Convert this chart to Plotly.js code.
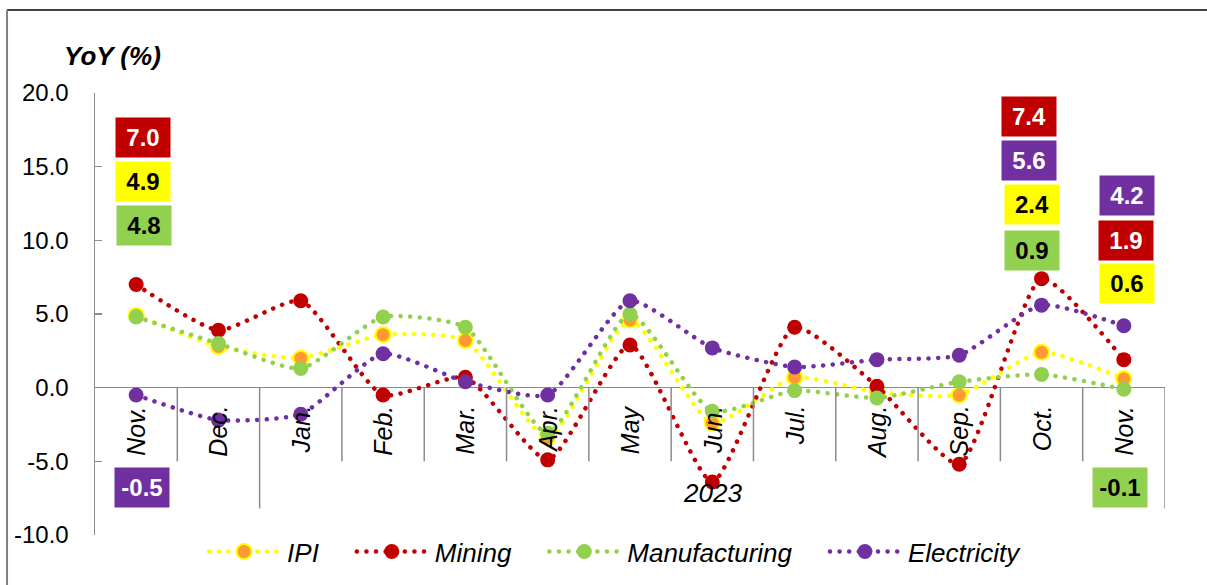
<!DOCTYPE html>
<html>
<head>
<meta charset="utf-8">
<script src="https://cdn.plot.ly/plotly-3.0.1.min.js"></script>
<style>
  html, body { margin: 0; padding: 0; background: #fff; }
  #chart { width: 1207px; height: 585px; }
  .scatterlayer .js-line, .legend .js-line { stroke-linecap: round !important; }
</style>
</head>
<body>
<div id="chart"></div>
<script>
// ---- data ----
const months = ["Nov.","Dec.","Jan.","Feb.","Mar.","Apr.","May","Jun.","Jul.","Aug.","Sep.","Oct.","Nov."];
const yearLabel = "2023";
const ipi           = [4.9, 2.8, 2.0, 3.6, 3.2, -3.4, 4.6, -2.4, 0.7, -0.3, -0.5, 2.4, 0.6];
const mining        = [7.0, 3.9, 5.9, -0.5, 0.7, -4.9, 2.9, -6.4, 4.1, 0.1, -5.2, 7.4, 1.9];
const manufacturing = [4.8, 3.0, 1.3, 4.8, 4.1, -3.1, 5.0, -1.6, -0.2, -0.7, 0.4, 0.9, -0.1];
const electricity   = [-0.5, -2.2, -1.8, 2.3, 0.4, -0.5, 5.9, 2.7, 1.4, 1.9, 2.2, 5.6, 4.2];
const seriesNames = ["IPI", "Mining", "Manufacturing", "Electricity"];
const yTicks = [-10, -5, 0, 5, 10, 15, 20];

// ---- styling ----
const FONT = "Liberation Sans, Arial, sans-serif";
const xs = months.map((_, i) => i);
const last = months.length - 1;
const PAD = "\u00a0\u00a0\u00a0\u00a0"; // extra spacing after legend text

const C = {
  ipiLine: "#FFFF00", ipiMarker: "#FF9933",
  mining: "#C00000", manuf: "#92D050", elec: "#7030A0"
};
const DASH = "0.1px,9.5px";

function tr(name, y, lineColor, markerColor, markerLine) {
  return {
    type: "scatter", mode: "lines+markers", name: name, x: xs, y: y,
    line: { color: lineColor, width: 4.5, dash: DASH, shape: "spline", smoothing: 0.55 },
    marker: { size: 15, color: markerColor, line: markerLine || { width: 0 } },
    hoverinfo: "skip"
  };
}

const data = [
  tr(seriesNames[0] + PAD, ipi, C.ipiLine, C.ipiMarker, { width: 2, color: C.ipiLine }),
  tr(seriesNames[1] + PAD, mining, C.mining, C.mining),
  tr(seriesNames[2] + PAD, manufacturing, C.manuf, C.manuf),
  tr(seriesNames[3], electricity, C.elec, C.elec)
];

const GRAY = "#8c8c8c";
const shapes = [];
for (let i = 0; i < last; i++) {
  shapes.push({ type: "line", xref: "x", yref: "y", x0: i + 0.5, x1: i + 0.5, y0: 0,
    y1: i === 1 ? -8.2 : -5.0, line: { color: GRAY, width: 1.5 } });
}
shapes.push({ type: "line", xref: "x", yref: "y", x0: last + 0.5, x1: last + 0.5, y0: 0, y1: -8.2,
  line: { color: GRAY, width: 1.5 } });
// outer frame (top and left)
shapes.push({ type: "line", xref: "paper", yref: "paper", x0: -0.0822, x1: 1.04, y0: 1.188, y1: 1.188,
  line: { color: "#000", width: 1.5 } });
shapes.push({ type: "line", xref: "paper", yref: "paper", x0: -0.0822, x1: -0.0822, y0: 1.188, y1: -0.12,
  line: { color: "#808080", width: 2 } });

const annotations = [];
// month labels
months.forEach((m, i) => {
  annotations.push({ x: i, y: 0, xref: "x", yref: "y", text: m, showarrow: false,
    textangle: -90, xanchor: "center", yanchor: "top", yshift: -16,
    font: { family: FONT, size: 25, style: "italic", color: "#000" } });
});
annotations.push({ x: (2 + last) / 2, y: -7.15, xref: "x", yref: "y", text: yearLabel, showarrow: false,
  font: { family: FONT, size: 26, style: "italic", color: "#000" } });
// y title
annotations.push({ x: 0.016, y: 1.0837, xref: "paper", yref: "paper", text: "YoY (%)", showarrow: false,
  xanchor: "center", yanchor: "middle",
  font: { family: FONT, size: 26, style: "italic", weight: 700, color: "#000" } });

function box(x, y, val, bg, fg) {
  annotations.push({ x: x, y: y, xref: "x", yref: "y", text: val.toFixed(1), showarrow: false,
    bgcolor: bg, width: 50, height: 35, borderpad: 2, valign: "middle",
    font: { family: FONT, size: 24, weight: 700, color: fg } });
}
box(0.08, 17.0, mining[0], C.mining, "#fff");
box(0.08, 14.0, ipi[0], "#FFFF00", "#000");
box(0.09, 11.0, manufacturing[0], C.manuf, "#000");
box(0.07, -6.8, electricity[0], C.elec, "#fff");

box(10.85, 18.4, mining[11], C.mining, "#fff");
box(10.85, 15.45, electricity[11], C.elec, "#fff");
box(10.88, 12.4, ipi[11], "#FFFF00", "#000");
box(10.88, 9.3, manufacturing[11], C.manuf, "#000");

box(12.04, 13.06, electricity[last], C.elec, "#fff");
box(12.03, 10.0, mining[last], C.mining, "#fff");
box(12.04, 7.07, ipi[last], "#FFFF00", "#000");
box(11.95, -6.8, manufacturing[last], C.manuf, "#000");

const layout = {
  width: 1207, height: 585,
  margin: { l: 95, r: 42, t: 93, b: 50, autoexpand: false },
  paper_bgcolor: "#fff", plot_bgcolor: "#fff",
  font: { family: FONT, color: "#000" },
  showlegend: true,
  legend: { orientation: "h", xref: "paper", x: 0.487, xanchor: "center",
    yref: "container", y: 0.057, yanchor: "middle",
    font: { family: FONT, size: 26, style: "italic", color: "#000" },
    itemwidth: 72, traceorder: "normal", bgcolor: "rgba(0,0,0,0)" },
  xaxis: { range: [-0.5, last + 0.5], showticklabels: false, showgrid: false, zeroline: false,
    showline: false, ticks: "", fixedrange: true },
  yaxis: { range: [-10, 20], tickvals: yTicks, ticktext: yTicks.map(v => v.toFixed(1)),
    showgrid: false, zeroline: true, zerolinecolor: GRAY, zerolinewidth: 1.5,
    showline: true, linecolor: GRAY, linewidth: 1.5, ticks: "inside", ticklen: 7, tickcolor: GRAY,
    tickwidth: 1.5, ticklabelstandoff: 20,
    tickfont: { family: FONT, size: 24, color: "#000" }, fixedrange: true },
  shapes: shapes,
  annotations: annotations
};

Plotly.newPlot("chart", data, layout, { displayModeBar: false, staticPlot: true }).then(gd => {
  // widen legend symbols to match the reference's longer line samples
  gd.querySelectorAll(".legend .traces").forEach(t => {
    t.querySelectorAll(".legendlines path").forEach(p => p.setAttribute("d", "M4,0h70"));
    t.querySelectorAll(".legendpoints path").forEach(p => p.setAttribute("transform", "translate(39,0)"));
  });
});
</script>
</body>
</html>
